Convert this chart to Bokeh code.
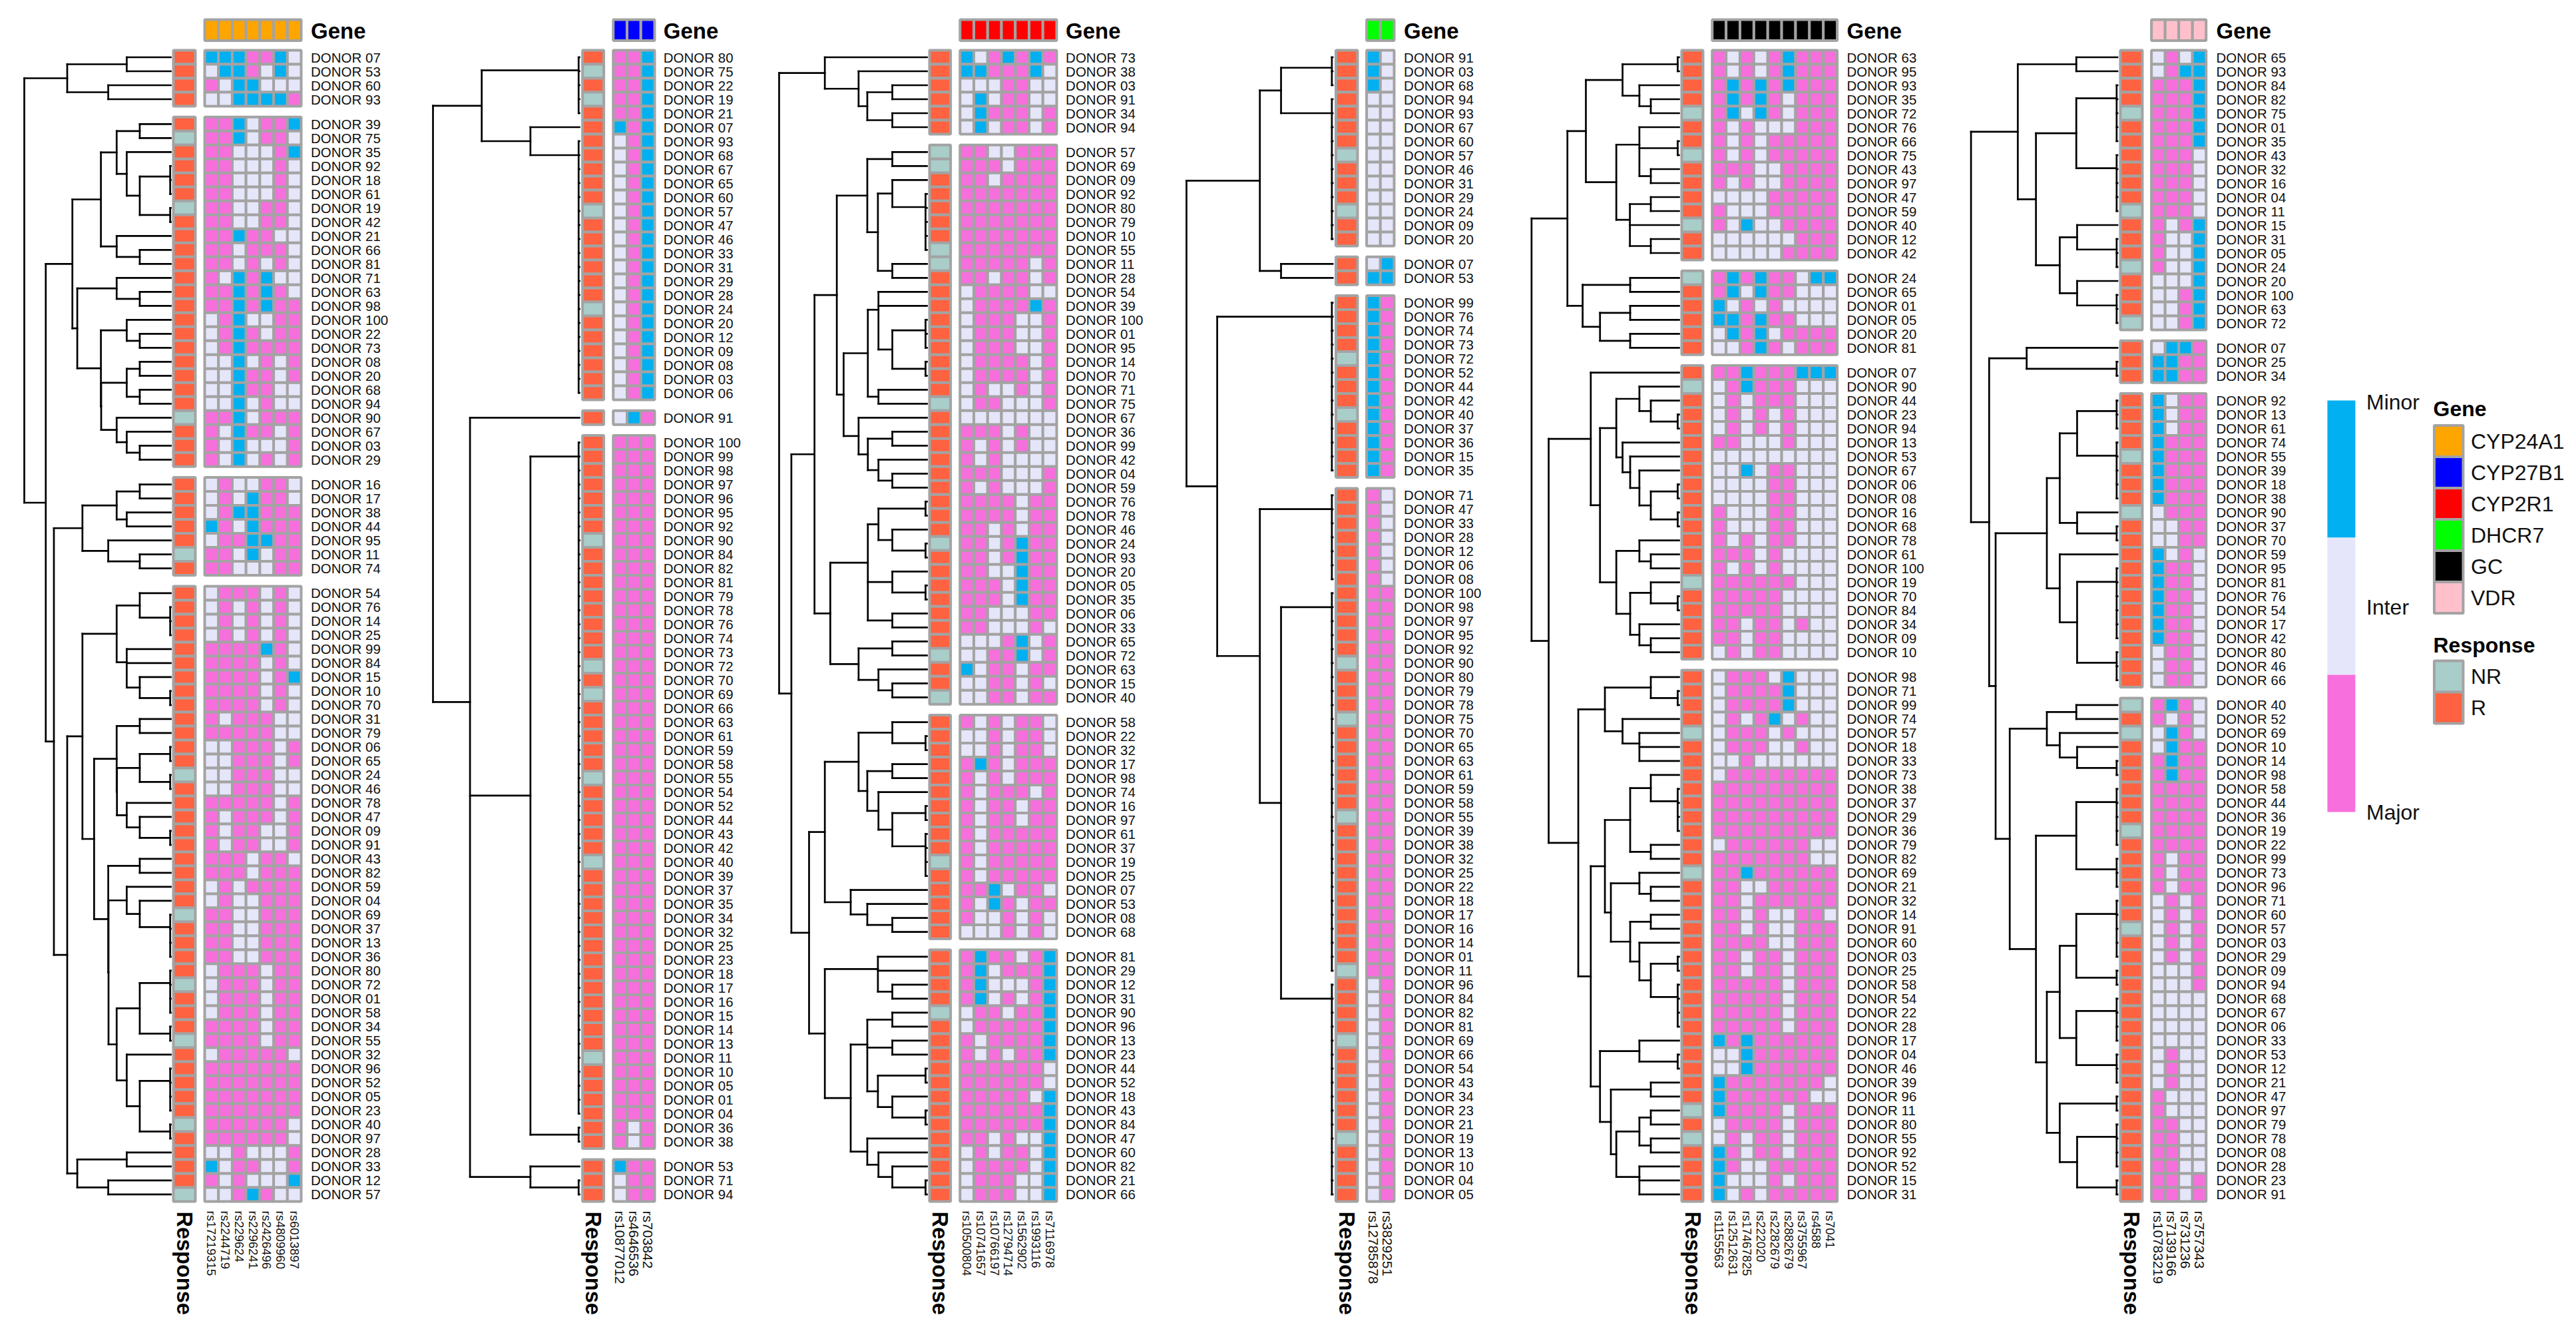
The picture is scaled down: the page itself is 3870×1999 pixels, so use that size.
import math
from bokeh.plotting import figure
from bokeh.embed import file_html
from bokeh.resources import INLINE
from bokeh.core.properties import value

# ---------- shared values ----------
GENES = ["CYP24A1", "CYP27B1", "CYP2R1", "DHCR7", "GC", "VDR"]
GENE_COLORS = ["#FFA500", "#0000FF", "#FF0000", "#00FF00", "#000000", "#FFC0CB"]
RESPONSES = ["NR", "R"]
RESPONSE_COLORS = ["#A9CDC9", "#FF6240"]
GENOTYPE_LABELS = ["Minor", "Inter", "Major"]
GENOTYPE_COLORS = {"b": "#00B0F0", "i": "#E6E6FA", "p": "#F76FDC"}
NR_DONORS = ["75", "19", "90", "11", "24", "69", "72", "55", "40", "57"]

# ---------- panel 1: CYP24A1 ----------
P1_SNPS = ["rs17219315", "rs2244719", "rs229624", "rs2296241", "rs2426496", "rs4809960", "rs6013897"]
P1_GROUPS = [4, 25, 7, 44]
P1_DONORS = ["07", "53", "60", "93",
    "39", "75", "35", "92", "18", "61", "19", "42", "21", "66", "81", "71", "63", "98", "100", "22", "73", "08", "20", "68", "94", "90", "67", "03", "29",
    "16", "17", "38", "44", "95", "11", "74",
    "54", "76", "14", "25", "99", "84", "15", "10", "70", "31", "79", "06", "65", "24", "46", "78", "47", "09", "91", "43", "82", "59", "04", "69", "37", "13", "36", "80", "72", "01", "58", "34", "55", "32", "96", "52", "05", "23", "40", "97", "28", "33", "12", "57"]
P1_CELLS = ["bbbppbi", "ibbpibi", "pibbiii", "iibbbbp",
    "ppbippb", "ppbippi", "ppiiipb", "ppiiipi", "ppiiipi", "ppiiipi", "ppiippi", "ppiippi", "ppbppii", "ppipppi", "ppipipi", "pibpbii", "ppbpbpi", "ppbpbpp", "ipbiipp", "ipbpipp", "ipbpppp", "iibipip", "iibppip", "iibppii", "iibipii", "ppbippp", "pibppip", "pibiiip", "pibipip",
    "ipiippi", "ipibppi", "ipbbppp", "bpibppp", "ippbbpp", "ppibipp", "ppiiipp",
    "ipppipi", "ipipipi", "ipipipi", "ipipipi", "ppppbpi", "ppppipi", "ppppipb", "ppppipi", "ppppipi", "pipppii", "pppppii", "iipppip", "iipppip", "iipppii", "iipppii", "pppppip", "pipppip", "pippiip", "pippiip", "pppippi", "pppippp", "ipipppp", "ipiippp", "ppiippp", "ppiippp", "ppiippp", "ppiippp", "ipppipp", "ipppipp", "ipppipp", "ipppipp", "ppppipp", "ppppipp", "ipppppi", "ppppppp", "ppppppp", "ppppppp", "ppppppp", "ppppppi", "ppppppi", "iipiiip", "bippiip", "pipiiib", "iipbpii"]
P1_TREE = (539,
    (381, (162, 0, 0), (230, 0, 0)),
    (460,
        (362,
            (257,
                (199, (114, 0, 0), (162, 0, (114, (2, 0, 0, 0), (2, 0, 0)))),
                (199, 0, (114, 0, 0))),
            (344,
                (199, 0, (114, 0, 0)),
                (257,
                    (162, 0, (114, 0, 0)),
                    (256,
                        (162, (114, 0, 0), (114, 0, 0)),
                        (199, 0, (162, 0, (114, 0, 0))))))),
        (430,
            (325,
                (199, (114, 0, 0), (162, 0, 0)),
                (230, 0, (114, 0, 0))),
            (381,
                (325,
                    (199,
                        (114, 0, (2, 0, 0, 0)),
                        (162, 0, 0, (114, 0, (2, 0, 0)))),
                    (282,
                        (199,
                            (114, 0, 0),
                            (198,
                                (114, (2, 0, 0), (2, 0, 0)),
                                (162, 0, (114, 0, (2, 0, 0))))),
                        (230,
                            (114, 0, 0),
                            (229,
                                (162, 0, (114, 0, (2, 0, 0, 0, 0))),
                                (199,
                                    (114, (2, 0, 0, 0, 0), (2, 0, 0)),
                                    (162, 0, (114, (2, 0, 0, 0, 0), (2, 0, 0)))))))),
                (344, (162, 0, 0), (230, 0, 0))))))

# ---------- panel 2: CYP27B1 ----------
P2_SNPS = ["rs10877012", "rs4646536", "rs703842"]
P2_GROUPS = [25, 1, 51, 3]
P2_DONORS = ["80", "75", "22", "19", "21", "07", "93", "68", "67", "65", "60", "57", "47", "46", "33", "31", "29", "28", "24", "20", "12", "09", "08", "03", "06",
    "91",
    "100", "99", "98", "97", "96", "95", "92", "90", "84", "82", "81", "79", "78", "76", "74", "73", "72", "70", "69", "66", "63", "61", "59", "58", "55", "54", "52", "44", "43", "42", "40", "39", "37", "35", "34", "32", "25", "23", "18", "17", "16", "15", "14", "13", "11", "10", "05", "01", "04", "36", "38",
    "53", "71", "94"]
P2_CELLS = ["ppb"] * 5 + ["bpb"] + ["ipb"] * 19 + ["ibp"] + ["ppp"] * 49 + ["pip"] * 2 + ["bpp", "ipp", "ipp"]
P2_TREE = (538,
    (359, (3, 0, 0, 0, 0, 0), (180, 0, (3, *[0] * 19))),
    (402,
        0,
        (180, (3, *[0] * 49), (3, 0, 0)),
        (180, 0, (3, 0, 0))))

# ---------- panel 3: CYP2R1 ----------
P3_SNPS = ["rs10500804", "rs10741657", "rs10766197", "rs12794714", "rs1562902", "rs1993116", "rs7116978"]
P3_GROUPS = [6, 40, 16, 18]
P3_DONORS = ["73", "38", "03", "91", "34", "94",
    "57", "69", "09", "92", "80", "79", "10", "55", "11", "28", "54", "39", "100", "01", "95", "14", "70", "71", "75", "67", "36", "99", "42", "04", "59", "76", "78", "46", "24", "93", "20", "05", "35", "06", "33", "65", "72", "63", "15", "40",
    "58", "22", "32", "17", "98", "74", "16", "97", "61", "37", "19", "25", "07", "53", "08", "68",
    "81", "29", "12", "31", "90", "96", "13", "23", "44", "52", "18", "43", "84", "47", "60", "82", "21", "66"]
P3_CELLS = ["bipbpbp", "bbpppbi", "iiippii", "ibippii", "ibpppip", "ibippip",
    "ppiippp", "pppippp", "ppipppp", "ppppppp", "ppppppp", "ppppppp", "ppppppp", "ppppppp", "pppppip", "ppippip", "ippppii", "ippppbp", "ipppiip", "ipppiip", "ipppiip", "ippppip", "ippppip", "ipiipip", "ippiiip", "iiiiiii", "pppipii", "pipipii", "pipiiii", "pppiiip", "pipiiip", "ppppipp", "ppppipp", "ppipipp", "ppipbpp", "ppipbpp", "ppiibpp", "pppibpp", "pppibpp", "ppiiipp", "ppiiipi", "iiipbip", "iippbip", "bippipp", "iippipi", "iippipp",
    "pipippi", "iipippi", "iipippi", "pbpippp", "pipippp", "pipppip", "pippipp", "pippipp", "pippppp", "pippppp", "pippppp", "pippppp", "ppbippi", "pibpipp", "piipipi", "iiipipi",
    "pbppipb", "pbipppb", "pbiiipb", "pbipipb", "ippippb", "ipppppb", "pippppb", "pipippb", "ppppppi", "ppppppi", "pppppib", "ppppppb", "ppppppb", "ppipiib", "ipippib", "ippppib", "ipppiib", "ipppiib"]
P3_TREE = (543,
    (375, 0, (251, 0, (219, (127, 0, 0), (127, 0, 0)))),
    (498,
        (413,
            (331,
                (219,
                    (127, 0, 0),
                    (180,
                        (127, 0, (5, 0, 0, 0, 0, 0)),
                        (127, 0, 0))),
                (306,
                    (217,
                        (178, 0, 0, (127, (5, 0, 0, 0), (5, 0, 0))),
                        (178, 0, 0)),
                    (251,
                        0,
                        (217, (127, 0, 0), (178, 0, (127, 0, 0)))))),
            (355,
                (217,
                    (178, (5, 0, 0), (127, 0, (5, 0, 0))),
                    (127, 0, (5, 0, 0)),
                    (127, 0, 0)),
                (251, (127, 0, 0), (178, 0, (127, 0, 0))))),
        (433,
            (375,
                (251,
                    (127, 0, (5, 0, 0)),
                    (219,
                        (127, 0, 0),
                        (178, 0, (127, (5, 0, 0), (5, 0, 0, 0, 0))))),
                (280, 0, (219, 0, (127, 0, 0)))),
            (375,
                (180, 0, 0, (127, 0, 0)),
                (280,
                    (219,
                        (127, 0, 0),
                        (127, 0, 0),
                        (180, (5, 0, 0), (127, 0, (5, 0, 0)))),
                    (219, 0, (178, 0, (127, 0, (5, 0, 0)))))))))

# ---------- panel 4: DHCR7 ----------
P4_SNPS = ["rs12785878", "rs3829251"]
P4_GROUPS = [14, 2, 13, 51]
P4_DONORS = ["91", "03", "68", "94", "93", "67", "60", "57", "46", "31", "29", "24", "09", "20",
    "07", "53",
    "99", "76", "74", "73", "72", "52", "44", "42", "40", "37", "36", "15", "35",
    "71", "47", "33", "28", "12", "06", "08", "100", "98", "97", "95", "92", "90", "80", "79", "78", "75", "70", "65", "63", "61", "59", "58", "55", "39", "38", "32", "25", "22", "18", "17", "16", "14", "01", "11", "96", "84", "82", "81", "69", "66", "54", "43", "34", "23", "21", "19", "13", "10", "04", "05"]
P4_CELLS = ["bi"] * 3 + ["ii"] * 11 + ["ib", "bb"] + ["bp"] * 13 + ["pi"] * 7 + ["pp"] * 28 + ["ip"] * 16
P4_TREE = (538,
    (268, (190, (3, 0, 0, 0), (3, *[0] * 11)), (190, 0, 0)),
    (425,
        (3, *[0] * 13),
        (268,
            (3, *[0] * 7),
            (190, (3, *[0] * 28), (3, *[0] * 16)))))

# ---------- panel 5: GC ----------
P5_SNPS = ["rs1155563", "rs12512631", "rs17467825", "rs222020", "rs2282679", "rs2882679", "rs3755967", "rs4588", "rs7041"]
P5_GROUPS = [15, 6, 21, 38]
P5_DONORS = ["63", "95", "93", "35", "72", "76", "66", "75", "43", "97", "47", "59", "40", "12", "42",
    "24", "65", "01", "05", "20", "81",
    "07", "90", "44", "23", "94", "13", "53", "67", "06", "08", "16", "68", "78", "61", "100", "19", "70", "84", "34", "09", "10",
    "98", "71", "99", "74", "57", "18", "33", "73", "38", "37", "29", "36", "79", "82", "69", "21", "32", "14", "91", "60", "03", "25", "58", "54", "22", "28", "17", "04", "46", "39", "96", "11", "80", "55", "92", "52", "15", "31"]
P5_CELLS = ["pipipbppp", "pipipbppp", "pbpbpbppp", "pbpbpippp", "pbibpippp", "pipiiippp", "pipippppp", "pipippppp", "pppiipppp", "pipiipppp", "iiiippppp", "piiippppp", "pibiipppp", "iiiiiippp", "iiiiipppp",
    "pbpbppibb", "pbibppiii", "bipipiiii", "bbpbppiii", "ibpbipppp", "iipbpippp",
    "ppbpppbbb", "ipbpppiii", "ipipppiii", "ipipipiii", "ipipipiii", "ppiiipiii", "iiiiiiiii", "iibippiii", "iiiippiii", "iiiippiii", "piiippiii", "piiippiii", "pipippiii", "pppipiiii", "pipipiiii", "ppppppiii", "pppppiiii", "pppppiiii", "ppippipii", "ppippiiii", "ipippiiii",
    "ipppibiii", "ippppbiii", "ippppbiii", "ipipbipii", "ipppipiii", "ipppiipii", "iipiiiiii", "ipppppppp", "ppppppppp", "ppppppppp", "ppppppppp", "ppppppppp", "ippppppii", "pppppppii", "ppbpppppp", "ppiippppp", "ppipppppp", "ppipiippi", "ppipiippp", "ppppiippp", "ppippippp", "ppippippp", "pppppippp", "pppppippp", "pppppippp", "pppppippp", "bpbpppppp", "iibpppppp", "iibpppppp", "bpppppppi", "bppppppii", "bppppippp", "ippppippp", "ipippippp", "bpippippp", "bpiippppp", "biiipippp", "bipippppp"]
P5_TREE = (543,
    (411,
        (343,
            (208, (5, 0, 0), (146, 0, (104, 0, 0))),
            (231,
                (146, 0, (5, 0, 0), (104, 0, 0)),
                (181, (104, 0, 0), 0, (104, 0, 0)))),
        (355,
            (180, 0, 0),
            (291, (180, 0, 0), (180, 0, 0)))),
    (480,
        (325,
            0,
            (291,
                (231,
                    (146, 0, (104, 0, (5, 0, 0))),
                    (208, 0, (180, 0, (146, 0, (104, (5, 0, 0), (5, 0, 0)))))),
                (231,
                    (146, 0, (104, 0, 0)),
                    (180,
                        (104, 0, (5, 0, 0)),
                        (146, 0, (104, 0, 0)))))),
        (371,
            (273,
                (104, 0, (5, 0, 0)),
                (208, 0, (146, 0, 0, 0))),
            (325,
                (273,
                    (180,
                        (104, 0, (5, 0, 0, 0, 0)),
                        (104, 0, 0)),
                    (251,
                        (146, 0, (104, 0, 0)),
                        (180,
                            (104, 0, 0),
                            (146, 0, (104, (5, 0, 0), (5, 0, 0, 0, 0)))))),
                (291,
                    (146, 0, (5, 0, 0)),
                    (251,
                        (104, 0, 0),
                        (231,
                            (146, (104, 0, 0), (104, 0, 0)),
                            (146, 0, 0, 0))))))))

# ---------- panel 6: VDR ----------
P6_SNPS = ["rs10783219", "rs7139166", "rs731236", "rs757343"]
P6_GROUPS = [20, 3, 21, 36]
P6_DONORS = ["65", "93", "84", "82", "75", "01", "35", "43", "32", "16", "04", "11", "15", "31", "05", "24", "20", "100", "63", "72",
    "07", "25", "34",
    "92", "13", "61", "74", "55", "39", "18", "38", "90", "37", "70", "59", "95", "81", "76", "54", "17", "42", "80", "46", "66",
    "40", "52", "69", "10", "14", "98", "58", "44", "36", "19", "22", "99", "73", "96", "71", "60", "57", "03", "29", "09", "94", "68", "67", "06", "33", "53", "12", "21", "47", "97", "79", "78", "08", "28", "23", "91"]
P6_CELLS = ["ipib", "ipbb", "pppb", "pppb", "pppb", "pppb", "pppb", "pppi", "pppi", "pppi", "pppi", "pppi", "pipb", "piib", "piib", "piib", "iiib", "iipb", "iipb", "iipb",
    "ibbp", "bbpp", "bbpp",
    "bipp", "bipp", "bipp", "bppp", "bppp", "bppp", "bppp", "bppp", "ippp", "iipp", "iipp", "bipi", "bppi", "bppi", "bppi", "bppi", "bppi", "bppi", "ippi", "ippi", "ippi",
    "pbpi", "pipi", "ibpi", "ibpp", "pbpp", "pbpp", "pppp", "pppp", "pppp", "pppp", "pppp", "pipp", "pipp", "pipp", "ipip", "ipip", "ipip", "ipip", "ipip", "iiip", "iiip", "iiii", "iiii", "iiii", "iiii", "ipii", "ipii", "ipii", "piii", "piii", "ppii", "ppii", "ppii", "ppii", "ppip", "ppip"]
P6_TREE = (363,
    (247,
        (102, 0, 0),
        (202,
            (102, (2, 0, 0, 0, 0, 0), (2, 0, 0, 0, 0, 0)),
            (143,
                (100, 0, (2, 0, 0, 0)),
                (100, 0, (2, 0, 0, 0))))),
    (318,
        (225, 0, (2, 0, 0)),
        (302,
            (175,
                (143,
                    (100, (2, 0, 0, 0), (2, 0, 0, 0, 0, 0)),
                    (100, 0, (2, 0, 0))),
                (143,
                    0,
                    (100, (2, 0, 0, 0, 0, 0, 0), (2, 0, 0, 0)))),
            (267,
                (175,
                    (102, 0, 0),
                    (143, 0, (100, 0, (2, 0, 0)))),
                (202,
                    (102, (2, 0, 0, 0, 0, 0), (2, 0, 0, 0)),
                    (175,
                        (143,
                            (102, (2, 0, 0, 0, 0, 0), (2, 0, 0)),
                            (102, (2, 0, 0, 0, 0), (2, 0, 0, 0))),
                        (143,
                            (2, 0, 0),
                            (100, (2, 0, 0, 0, 0), (2, 0, 0)))))))))

# ---------- layout (image pixels) ----------
LAYOUT = [
    dict(snps=P1_SNPS, groups=P1_GROUPS, donors=P1_DONORS, cells=P1_CELLS, tree=P1_TREE, gene=0,
         root=36, leaf=256, resp=(258, 295), heat=(305, 454), label=466.5, snp_size=18.5),
    dict(snps=P2_SNPS, groups=P2_GROUPS, donors=P2_DONORS, cells=P2_CELLS, tree=P2_TREE, gene=1,
         root=650, leaf=870, resp=(872.7, 908.6), heat=(918.8, 985), label=996.3, snp_size=20.8),
    dict(snps=P3_SNPS, groups=P3_GROUPS, donors=P3_DONORS, cells=P3_CELLS, tree=P3_TREE, gene=2,
         root=1170, leaf=1392, resp=(1394, 1429.6), heat=(1439.8, 1589), label=1600.6, snp_size=18.5),
    dict(snps=P4_SNPS, groups=P4_GROUPS, donors=P4_DONORS, cells=P4_CELLS, tree=P4_TREE, gene=3,
         root=1782, leaf=2001.6, resp=(2004.5, 2041), heat=(2050.6, 2096), label=2108.6, snp_size=20.8),
    dict(snps=P5_SNPS, groups=P5_GROUPS, donors=P5_DONORS, cells=P5_CELLS, tree=P5_TREE, gene=4,
         root=2300.4, leaf=2522, resp=(2524, 2560), heat=(2569.8, 2761.6), label=2774, snp_size=18.5),
    dict(snps=P6_SNPS, groups=P6_GROUPS, donors=P6_DONORS, cells=P6_CELLS, tree=P6_TREE, gene=5,
         root=2960.6, leaf=3180.6, resp=(3183, 3220), heat=(3229.7, 3315.8), label=3329, snp_size=20.8),
]
ROW_H = 21.0
GROUP_GAP = 16.3
TOP = 75.0
BORDER = "#A3A3A3"
BW = 4
FONT = value("Liberation Sans")

W, H = 3854, 1983
p = figure(width=W, height=H, x_range=(0, W), y_range=(H, 0),
           output_backend="svg", toolbar_location=None, min_border=0)
p.axis.visible = False
p.grid.visible = False
p.outline_line_color = None
p.background_fill_color = "white"
p.border_fill_color = "white"


def row_edges(groups):
    edges = []
    y = TOP
    for g in groups:
        for _ in range(g):
            edges.append(y)
            y += ROW_H
        y += GROUP_GAP
    return edges


def count_leaves(n):
    return 1 if n == 0 else sum(count_leaves(c) for c in n[1:])


def draw_tree(tree, leaf_x, root_x, ys):
    scale = (leaf_x - root_x) / tree[0]
    xs0, xs1, ys0, ys1 = [], [], [], []
    counter = [0]

    def walk(n):
        if n == 0:
            y = ys[counter[0]]
            counter[0] += 1
            return leaf_x, y
        x = leaf_x - n[0] * scale
        kids = [walk(c) for c in n[1:]]
        for cx, cy in kids:
            xs0.append(cx); xs1.append(x); ys0.append(cy); ys1.append(cy)
        xs0.append(x); xs1.append(x); ys0.append(kids[0][1]); ys1.append(kids[-1][1])
        y = kids[-1][1]
        for _, cy in reversed(kids[:-1]):
            y = (y + cy) / 2
        return x, y

    walk(tree)
    p.segment(xs0, ys0, xs1, ys1, line_color="black", line_width=2.7, line_cap="square")


for P in LAYOUT:
    n = len(P["donors"])
    ncol = len(P["snps"])
    assert n == 80 and len(P["cells"]) == 80 and sum(P["groups"]) == 80, (P["gene"], n, len(P["cells"]))
    assert count_leaves(P["tree"]) == 80, (P["gene"], count_leaves(P["tree"]))
    assert all(len(c) == ncol for c in P["cells"]), [c for c in P["cells"] if len(c) != ncol]
    edges = row_edges(P["groups"])
    centers = [e + ROW_H / 2 for e in edges]
    hl, hr = P["heat"][0] + 2, P["heat"][1] - 2
    cw = (hr - hl) / ncol
    rl, rr = P["resp"][0] + 2, P["resp"][1] - 2

    draw_tree(P["tree"], P["leaf"], P["root"], centers)

    # response strip
    p.quad(left=[rl] * n, right=[rr] * n, top=edges, bottom=[e + ROW_H for e in edges],
           fill_color=[RESPONSE_COLORS[0] if d in NR_DONORS else RESPONSE_COLORS[1] for d in P["donors"]],
           line_color=BORDER, line_width=BW)

    # heat cells
    L, R, T, B, C = [], [], [], [], []
    for r, row in enumerate(P["cells"]):
        for c, ch in enumerate(row):
            L.append(hl + c * cw); R.append(hl + (c + 1) * cw)
            T.append(edges[r]); B.append(edges[r] + ROW_H)
            C.append(GENOTYPE_COLORS[ch])
    p.quad(left=L, right=R, top=T, bottom=B, fill_color=C, line_color=BORDER, line_width=BW)

    # gene strip
    p.quad(left=[hl + c * cw for c in range(ncol)], right=[hl + (c + 1) * cw for c in range(ncol)],
           top=[29] * ncol, bottom=[60.5] * ncol, fill_color=GENE_COLORS[P["gene"]],
           line_color=BORDER, line_width=BW)

    p.text([P["label"]] * n, centers, text=["DONOR " + d for d in P["donors"]],
           text_font=FONT, text_font_size="20.5px", text_color="#111111",
           text_align="left", text_baseline="middle")
    p.text([P["label"]], [46], text=["Gene"], text_font=FONT, text_font_style="bold",
           text_font_size="33px", text_color="black", text_align="left", text_baseline="middle")
    p.text([(rl + rr) / 2], [1819], text=["Response"], angle=-math.pi / 2, text_font=FONT,
           text_font_style="bold", text_font_size="32.5px", text_color="black",
           text_align="left", text_baseline="middle")
    p.text([hl + (c + 0.5) * cw for c in range(ncol)], [1818] * ncol, text=P["snps"],
           angle=-math.pi / 2, text_font=FONT, text_font_size=f'{P["snp_size"]}px',
           text_color="#111111", text_align="left", text_baseline="middle")

# colour bar
BAR_L, BAR_R = 3496, 3538
BAR_Y = [601, 807, 1013, 1219]
for i, lab in enumerate(GENOTYPE_LABELS):
    p.quad(left=[BAR_L], right=[BAR_R], top=[BAR_Y[i]], bottom=[BAR_Y[i + 1]],
           fill_color=GENOTYPE_COLORS["bip"[i]], line_color=None)
p.text([3554.5] * 3, [603, 911, 1219], text=GENOTYPE_LABELS, text_font=FONT,
       text_font_size="32px", text_color="#111111", text_align="left", text_baseline="middle")

# legends
LEG_L, LEG_R = 3656.5, 3700
CELL = 47.0
p.text([3655], [613.5], text=["Gene"], text_font=FONT, text_font_style="bold",
       text_font_size="32px", text_color="black", text_align="left", text_baseline="middle")
gy = [638.5 + i * CELL for i in range(len(GENES))]
p.quad(left=[LEG_L] * 6, right=[LEG_R] * 6, top=gy, bottom=[y + CELL for y in gy],
       fill_color=GENE_COLORS, line_color=BORDER, line_width=BW)
p.text([3711.5] * 6, [y + CELL / 2 for y in gy], text=GENES, text_font=FONT, text_font_size="32px",
       text_color="#111111", text_align="left", text_baseline="middle")
p.text([3655], [968], text=["Response"], text_font=FONT, text_font_style="bold",
       text_font_size="32px", text_color="black", text_align="left", text_baseline="middle")
ry = [992 + i * CELL for i in range(2)]
p.quad(left=[LEG_L] * 2, right=[LEG_R] * 2, top=ry, bottom=[y + CELL for y in ry],
       fill_color=RESPONSE_COLORS, line_color=BORDER, line_width=BW)
p.text([3711.5] * 2, [y + CELL / 2 for y in ry], text=RESPONSES, text_font=FONT, text_font_size="32px",
       text_color="#111111", text_align="left", text_baseline="middle")

open("out.html", "w").write(file_html(p, INLINE))
